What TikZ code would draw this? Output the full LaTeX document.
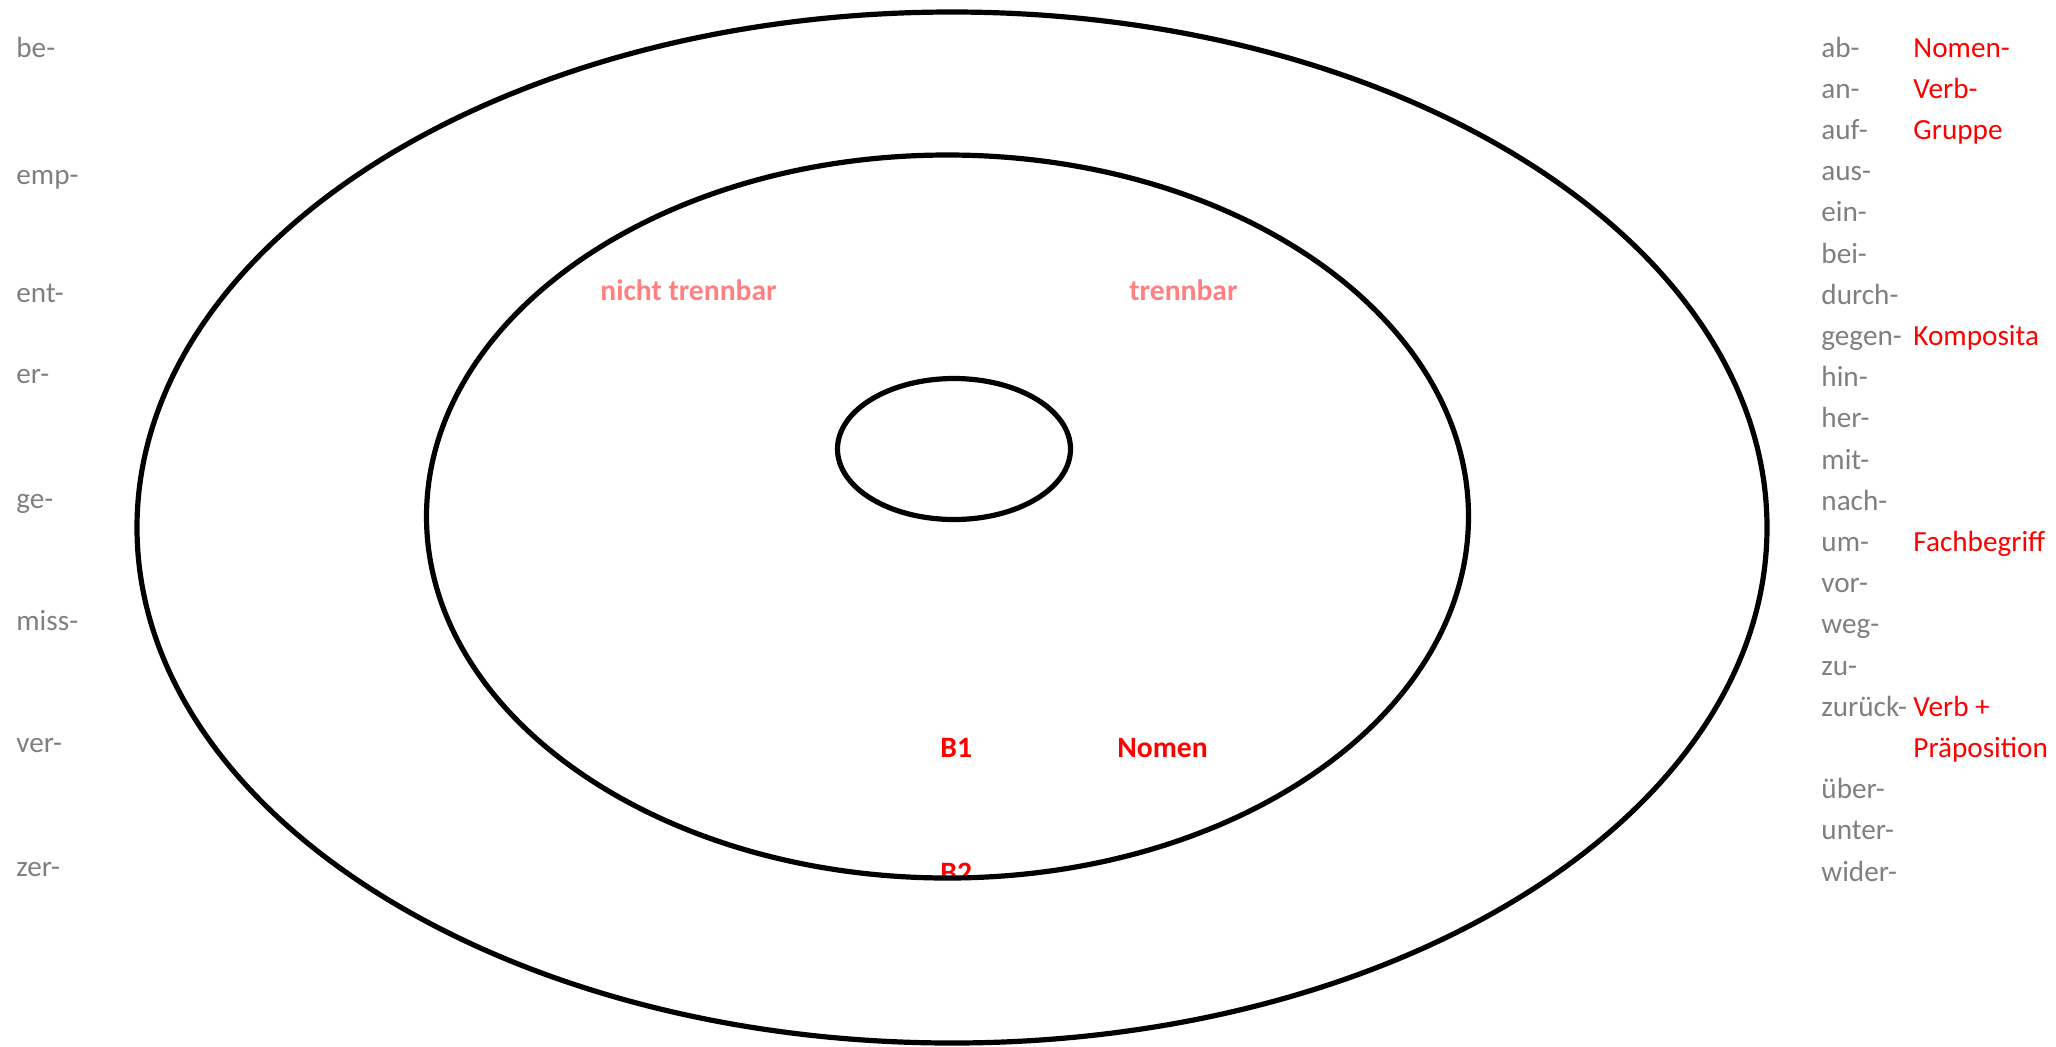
\documentclass[tikz,border=0pt]{standalone}
\usepackage{fontspec}
\setmainfont{Carlito}
\definecolor{txtgray}{HTML}{7F7F7F}
\definecolor{lightred}{HTML}{FF8080}
\definecolor{pured}{HTML}{FF0000}
\tikzset{
  ring/.style={draw=black, line width=2.6pt},
  pfxtext/.style={anchor=base west, inner sep=0pt, text=txtgray, font=\fontsize{14.6}{17}\selectfont},
  redlabel/.style={anchor=base west, inner sep=0pt, text=pured, font=\fontsize{14.6}{17}\selectfont},
  boldlight/.style={anchor=base west, inner sep=0pt, text=lightred, font=\fontsize{14.8}{17}\selectfont\bfseries},
  boldred/.style={anchor=base west, inner sep=0pt, text=pured, font=\fontsize{14.8}{17}\selectfont\bfseries}
}
\begin{document}
\begin{tikzpicture}[x=0.5pt,y=-0.5pt]
\useasboundingbox (0,0) rectangle (2056,1046);
% left column
\node[pfxtext] (l1) at (16,57) {be-};
\node[pfxtext] (l2) at (16,184) {emp-};
\node[pfxtext] (l3) at (16,302) {ent-};
\node[pfxtext] (l4) at (16,383) {er-};
\node[pfxtext] (l5) at (16,508) {ge-};
\node[pfxtext] (l6) at (16,630) {miss-};
\node[pfxtext] (l7) at (16,752) {ver-};
\node[pfxtext] (l8) at (16,876) {zer-};
% right column
\foreach \t [count=\i from 0] in {ab-,an-,auf-,aus-,ein-,bei-,durch-,gegen-,hin-,her-,mit-,nach-,um-,vor-,weg-,zu-,zur\"uck-}
  \node[pfxtext] (r\i) at (1821,{57+41.2*\i}) {\t};
\node[pfxtext] (r18) at (1821,{57+41.2*18}) {\"uber-};
\node[pfxtext] (r19) at (1821,{57+41.2*19}) {unter-};
\node[pfxtext] (r20) at (1821,{57+41.2*20}) {wider-};
% red labels
\node[redlabel] (nvg1) at (1913,{57+41.2*0}) {Nomen-};
\node[redlabel] (nvg2) at (1913,{57+41.2*1}) {Verb-};
\node[redlabel] (nvg3) at (1913,{57+41.2*2}) {Gruppe};
\node[redlabel] (komp) at (1913,{57+41.2*7}) {Komposita};
\node[redlabel] (fach) at (1913,{57+41.2*12}) {Fachbegriff};
\node[redlabel] (vp1) at (1913,{57+41.2*16}) {Verb +};
\node[redlabel] (vp2) at (1913,{57+41.2*17}) {Pr\"aposition};
% bold labels
\node[boldlight] (nt) at (600,300) {nicht trennbar};
\node[boldlight] (tb) at (1129,300) {trennbar};
\node[boldred] (b1) at (940,757) {B1};
\node[boldred] (nom) at (1117,757) {Nomen};
\begin{scope}
  \clip (900,840) rectangle (1000,875);
  \node[boldred] (b2) at (940,882) {B2};
\end{scope}
% ellipses
\draw[ring] (952,527.5) ellipse [x radius=815, y radius=515.5];
\draw[ring] (947.5,516.5) ellipse [x radius=521, y radius=361.5];
\draw[ring] (954,449) ellipse [x radius=116.5, y radius=70.5];
\end{tikzpicture}
\end{document}
